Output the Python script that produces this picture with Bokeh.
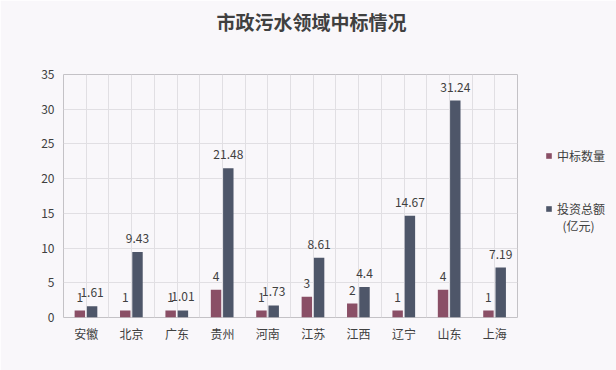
from bokeh.plotting import figure
from bokeh.models import (Range1d, FixedTicker, Legend, LegendItem, ColumnDataSource,
                          LabelSet, Title)
from bokeh.transform import dodge
from bokeh.core.properties import value
from bokeh.embed import file_html
from bokeh.resources import INLINE

provinces = ["安徽", "北京", "广东", "贵州", "河南", "江苏", "江西", "辽宁", "山东", "上海"]
counts = [1, 1, 1, 4, 1, 3, 2, 1, 4, 1]
investment = [1.61, 9.43, 1.01, 21.48, 1.73, 8.61, 4.4, 14.67, 31.24, 7.19]
y_ticks = [0, 5, 10, 15, 20, 25, 30, 35]
series_names = ["中标数量", "投资总额", "(亿元)"]
title_text = "市政污水领域中标情况"

FONT = "Noto Sans CJK SC"
RED = "#8a4f66"
BLUE = "#4e5669"
TXT = "#404040"
BG = "#f9f7fa"

xc = [i + 0.5 for i in range(len(provinces))]
src = ColumnDataSource(dict(
    x=xc, counts=counts, inv=investment,
    cl=[str(c) for c in counts], il=[f"{v:g}" for v in investment]))

p = figure(frame_width=454, frame_height=243,
           x_range=Range1d(0, len(provinces)), y_range=Range1d(0, 35),
           output_backend="svg", toolbar_location=None,
           min_border_left=63, min_border_right=99, min_border_top=73, min_border_bottom=54,
           background_fill_color=BG, border_fill_color=BG)

# real title (outermost) + blank spacer title between it and the frame
p.title.text = title_text
p.title.align = "left"
p.title.offset = 153
p.title.vertical_align = "bottom"
p.title.standoff = 10
p.title.text_font = FONT
p.title.text_font_size = "19px"
p.title.text_font_style = "bold"
p.title.text_color = TXT
spacer = Title(text=" ", standoff=32, text_font_size="1px", text_color=BG)
p.add_layout(spacer, "above")

r1 = p.vbar(x=dodge("x", -0.14, range=p.x_range), top="counts", width=0.23, source=src,
            fill_color=RED, line_color=None)
r2 = p.vbar(x=dodge("x", 0.13, range=p.x_range), top="inv", width=0.23, source=src,
            fill_color=BLUE, line_color=None)
# invisible renderer used only to space legend entries
ghost = p.vbar(x=[], top=[], width=0.2, fill_alpha=0, line_alpha=0)

for col, lab, off in (("counts", "cl", -0.14), ("inv", "il", 0.13)):
    ls = LabelSet(x=dodge("x", off, range=p.x_range), y=col, text=lab, source=src,
                  y_offset=9, text_align="center", text_baseline="bottom",
                  text_font=value(FONT), text_font_size="12px", text_color=TXT)
    p.add_layout(ls)

# axes
p.xaxis.ticker = FixedTicker(ticks=xc)
p.xaxis.major_label_overrides = {x: name for x, name in zip(xc, provinces)}
p.yaxis.ticker = FixedTicker(ticks=y_ticks)
for ax in (p.xaxis[0], p.yaxis[0]):
    ax.major_tick_line_color = None
    ax.major_tick_out = 0
    ax.major_tick_in = 0
    ax.minor_tick_line_color = None
    ax.minor_tick_out = 0
    ax.axis_line_color = None
    ax.major_label_text_font = FONT
    ax.major_label_text_font_size = "12px"
    ax.major_label_text_color = TXT
p.xaxis.major_label_standoff = 7
p.yaxis.major_label_standoff = 9

p.xgrid.ticker = FixedTicker(ticks=[i * 0.5 for i in range(0, 2 * len(provinces) + 1)])
p.grid.grid_line_color = "#e1dfe3"
p.grid.grid_line_width = 1
p.outline_line_color = "#c4c2c6"

legend = Legend(items=[LegendItem(label=series_names[0], renderers=[r1]),
                       LegendItem(label="", renderers=[ghost]),
                       LegendItem(label="", renderers=[ghost]),
                       LegendItem(label="", renderers=[ghost]),
                       LegendItem(label=series_names[1], renderers=[r2]),
                       LegendItem(label="  " + series_names[2], renderers=[ghost])],
                location=(28, 83), orientation="vertical",
                glyph_width=7, glyph_height=7, label_standoff=5, spacing=0,
                label_height=12,
                padding=0, margin=0, border_line_color=None, background_fill_alpha=0,
                label_text_font=FONT, label_text_font_size="12px", label_text_color=TXT)
p.add_layout(legend, "right")

open("out.html", "w").write(file_html(p, INLINE))
